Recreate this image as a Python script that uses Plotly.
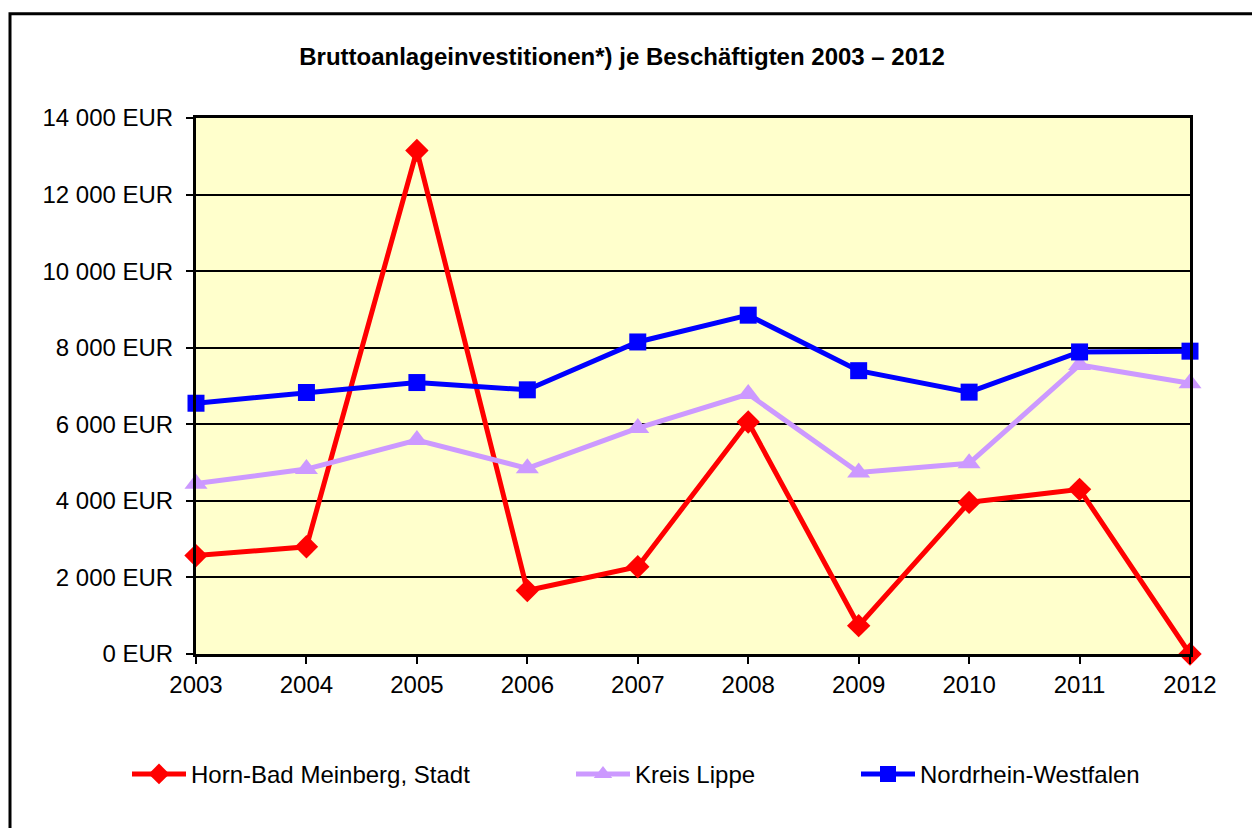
import plotly.graph_objects as go

years = [2003, 2004, 2005, 2006, 2007, 2008, 2009, 2010, 2011, 2012]
horn = [2570, 2800, 13150, 1660, 2280, 6060, 740, 3960, 4300, 0]
lippe = [4450, 4830, 5590, 4850, 5900, 6790, 4740, 4980, 7550, 7070]
nrw = [6550, 6830, 7090, 6900, 8150, 8850, 7400, 6840, 7890, 7910]
y_ticks = [0, 2000, 4000, 6000, 8000, 10000, 12000, 14000]
y_tick_labels = ["0 EUR", "2 000 EUR", "4 000 EUR", "6 000 EUR", "8 000 EUR",
                 "10 000 EUR", "12 000 EUR", "14 000 EUR"]
series_names = ["Horn-Bad Meinberg, Stadt", "Kreis Lippe", "Nordrhein-Westfalen"]
title_text = "Bruttoanlageinvestitionen*) je Beschäftigten 2003 – 2012"

FONT = "Liberation Sans, Arial, sans-serif"
W, H = 1252, 828
L, R, T, B = 196, 1190, 117.5, 654.5
PW, PH = R - L, B - T

def px_x(p):
    return (p - L) / PW

def px_y(p):
    return (B - p) / PH

fig = go.Figure()
styles = [
    dict(color="#FF0000", symbol="diamond", size=18, legend="legend", lx=127),
    dict(color="#CC99FF", symbol="triangle-up", size=20, legend="legend2", lx=571),
    dict(color="#0000FF", symbol="square", size=17, legend="legend3", lx=856),
]
for name, vals, st in zip(series_names, [horn, lippe, nrw], styles):
    fig.add_trace(go.Scatter(
        x=years, y=vals, name=name, mode="lines+markers",
        line=dict(color=st["color"], width=5),
        marker=dict(color=st["color"], symbol=st["symbol"], size=st["size"]),
        cliponaxis=False, legend=st["legend"],
    ))

legend_common = dict(orientation="h", yanchor="middle", xanchor="left",
                     font=dict(family=FONT, size=24, color="black"),
                     bgcolor="rgba(0,0,0,0)", itemwidth=54)
layout_legends = {}
for st in styles:
    layout_legends[st["legend"]] = dict(legend_common, x=px_x(st["lx"]), y=px_y(775))

fig.update_layout(
    width=W, height=H,
    margin=dict(l=L, r=W - R, t=T, b=H - B, pad=0),
    paper_bgcolor="white",
    plot_bgcolor="#FFFFCC",
    showlegend=True,
    title=dict(text="<b>" + title_text + "</b>", x=622 / W, xanchor="center",
               y=1 - 57 / H, yanchor="middle", xref="container", yref="container",
               font=dict(family=FONT, size=24, color="black")),
    xaxis=dict(range=[2003, 2012], tickvals=years, ticktext=[str(y) for y in years],
               showgrid=False, zeroline=False, showline=True, linecolor="black",
               linewidth=3, mirror=True, ticks="outside", ticklen=7, tickwidth=2,
               tickcolor="black", tickfont=dict(family=FONT, size=24, color="black")),
    yaxis=dict(range=[0, 14000], tickvals=y_ticks, ticktext=y_tick_labels,
               showgrid=True, gridcolor="black", gridwidth=2, zeroline=False,
               showline=True, linecolor="black", linewidth=3, mirror=True,
               ticks="outside", ticklen=7, tickwidth=2, tickcolor="black",
               ticklabelstandoff=8,
               tickfont=dict(family=FONT, size=24, color="black")),
    shapes=[dict(type="rect", xref="paper", yref="paper",
                 x0=px_x(10), x1=px_x(1270), y0=px_y(13), y1=px_y(850),
                 line=dict(color="black", width=3), fillcolor="rgba(0,0,0,0)",
                 layer="below")],
    **layout_legends,
)

fig.write_html("out.html", config={"displayModeBar": False},
               post_script="document.body.style.margin='0px';document.body.style.overflow='hidden';")
